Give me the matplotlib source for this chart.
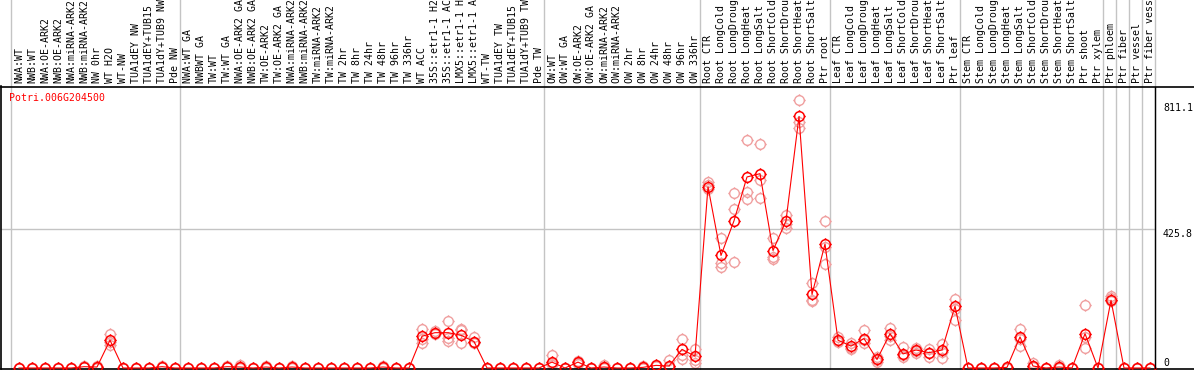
import matplotlib
matplotlib.use("Agg")
import matplotlib.pyplot as plt
from matplotlib.path import Path
import matplotlib.transforms as mtransforms
import numpy as np

gene = "Potri.006G204500"

labels_nw = ["NWA:WT", "NWB:WT", "NWA:OE-ARK2", "NWB:OE-ARK2", "NWA:miRNA-ARK2",
             "NWB:miRNA-ARK2", "NW 0hr", "WT H2O", "WT-NW", "TUA1dEY NW",
             "TUA1dEY+TUB15 NW", "TUA1dY+TUB9 NW", "Pde NW"]
labels_tw = ["NWA:WT GA", "NWBWT GA", "TW:WT", "TW:WT GA", "NWA:OE-ARK2 GA",
             "NWB:OE-ARK2 GA", "TW:OE-ARK2", "TW:OE-ARK2 GA", "NWA:miRNA-ARK2 GA",
             "NWB:miRNA-ARK2 GA", "TW:miRNA-ARK2", "TW:miRNA-ARK2 GA", "TW 2hr", "TW 8hr",
             "TW 24hr", "TW 48hr", "TW 96hr", "TW 336hr", "WT ACC", "35S::etr1-1 H2O",
             "35S::etr1-1 ACC", "LMX5::etr1-1 H2O", "LMX5::etr1-1 ACC", "WT-TW",
             "TUA1dEY TW", "TUA1dEY+TUB15 TW", "TUA1dY+TUB9 TW", "Pde TW"]
labels_ow = ["OW:WT", "OW:WT GA", "OW:OE-ARK2", "OW:OE-ARK2 GA", "OW:miRNA-ARK2",
             "OW:miRNA-ARK2 GA", "OW 2hr", "OW 8hr", "OW 24hr", "OW 48hr", "OW 96hr", "OW 336hr"]
labels_root = ["Root CTR", "Root LongCold", "Root LongDrought", "Root LongHeat", "Root LongSalt",
               "Root ShortCold", "Root ShortDrought", "Root ShortHeat", "Root ShortSalt", "Ptr root"]
labels_leaf = ["Leaf CTR", "Leaf LongCold", "Leaf LongDrought", "Leaf LongHeat", "Leaf LongSalt",
               "Leaf ShortCold", "Leaf ShortDrought", "Leaf ShortHeat", "Leaf ShortSalt", "Ptr leaf"]
labels_stem = ["Stem CTR", "Stem LongCold", "Stem LongDrought", "Stem LongHeat", "Stem LongSalt",
               "Stem ShortCold", "Stem ShortDrought", "Stem ShortHeat", "Stem ShortSalt",
               "Ptr shoot", "Ptr xylem"]
labels_tail = [["Ptr phloem"], ["Ptr fiber"], ["Ptr vessel"], ["Ptr fiber vessel"]]

groups = [labels_nw, labels_tw, labels_ow, labels_root, labels_leaf, labels_stem] + labels_tail
labels = [l for g in groups for l in g]

# mean expression
mean_vals = ([0, 0, 0, 0, 0, 4, 3, 85, 0, 0, 0, 4, 0]
             + [0, 0, 0, 4, 3, 0, 3, 0, 3, 0, 0, 0, 0, 0, 0, 3, 0, 0, 97, 108, 108, 100, 81, 0, 0, 0, 0, 0]
             + [18, 0, 18, 0, 3, 0, 0, 2, 8, 6, 57, 36]
             + [554, 344, 450, 584, 594, 359, 450, 769, 225, 379]
             + [85, 67, 90, 26, 105, 43, 55, 47, 55, 189]
             + [0, 0, 0, 2, 95, 6, 0, 3, 0, 105, 0]
             + [207, 0, 0, 0])

# replicates
rep_a = ([0, 0, 0, 0, 0, 6, 5, 103, 0, 0, 0, 6, 0]
         + [0, 0, 0, 6, 10, 0, 5, 0, 5, 0, 0, 0, 0, 0, 0, 5, 0, 0, 118, 112, 144, 120, 95, 0, 0, 0, 0, 0]
         + [40, 0, 22, 0, 10, 0, 0, 6, 10, 24, 90, 57]
         + [570, 397, 534, 696, 686, 397, 468, 820, 261, 450]
         + [95, 77, 116, 34, 123, 63, 62, 57, 73, 212]
         + [0, 0, 0, 4, 118, 14, 0, 8, 0, 192, 0]
         + [219, 0, 0, 0])
rep_b = ([0, 0, 0, 0, 0, 3, 2, 80, 0, 0, 0, 3, 0]
         + [0, 0, 0, 3, 3, 0, 2, 0, 2, 0, 0, 0, 0, 0, 0, 2, 0, 0, 90, 106, 92, 116, 79, 0, 0, 0, 0, 0]
         + [15, 0, 16, 0, 2, 0, 0, 1, 6, 5, 40, 25]
         + [560, 320, 486, 538, 574, 339, 440, 752, 209, 370]
         + [82, 62, 85, 24, 98, 40, 52, 45, 50, 180]
         + [0, 0, 0, 1, 90, 5, 0, 2, 0, 95, 0]
         + [215, 0, 0, 0])
rep_c = ([0, 0, 0, 0, 0, 2, 1, 70, 0, 0, 0, 2, 0]
         + [0, 0, 0, 2, 1, 0, 1, 0, 1, 0, 0, 0, 0, 0, 0, 1, 0, 0, 76, 104, 82, 76, 75, 0, 0, 0, 0, 0]
         + [8, 0, 12, 0, 0, 0, 0, 0, 5, 2, 26, 15]
         + [547, 308, 323, 516, 519, 333, 427, 734, 205, 318]
         + [78, 57, 75, 19, 85, 34, 45, 34, 31, 146]
         + [0, 0, 0, 0, 67, 3, 0, 0, 0, 60, 0]
         + [205, 0, 0, 0])

y_ticks = [0, 425.8, 811.1]

MONO = "DejaVu Sans Mono"
RED = "#ff0000"
PINK = "#f0a0a0"
GREY = "#c4c4c4"

# circle marker with four little ticks
circ = Path.unit_circle()
ticks = Path([(0, 1), (0, 1.3), (0, -1), (0, -1.3), (1, 0), (1.3, 0), (-1, 0), (-1.3, 0)],
             [Path.MOVETO, Path.LINETO] * 4)
mark = Path.make_compound_path(circ, ticks)

W, H = 1194, 370
fig = plt.figure(figsize=(W / 100, H / 100), dpi=100)
top_px, bot_px = 86.5, 368.5
ax = fig.add_axes([1 / W, (H - bot_px) / H, 1 - 1 / W, (bot_px - top_px) / H])

x0_px, dx_px = 19, 13
zero_px, scale = 368, (368 - 228.7) / 425.8
ax.set_xlim((1 - x0_px) / dx_px, (W - x0_px) / dx_px)
ax.set_ylim((zero_px - bot_px) / scale, (zero_px - top_px) / scale)

x = np.arange(len(labels))
for r in (rep_a, rep_b, rep_c):
    ax.plot(x, r, linestyle="none", marker=mark, markersize=9, mfc="none",
            mec=PINK, mew=1.0, zorder=2)
ax.plot(x, mean_vals, color=RED, lw=0.8, marker=mark, markersize=9, mfc="none",
        mec=RED, mew=1.1, zorder=3)

# group separators
bounds = np.cumsum([0] + [len(g) for g in groups])
label_frac = top_px / (bot_px - top_px)
for b in bounds:
    ax.axvline(b - 0.62, ymin=0, ymax=1 + label_frac + 0.05, color=GREY, lw=1,
               clip_on=False, zorder=1)
ax.axvline(bounds[-1] - 0.62, color="black", lw=1, zorder=4)

ax.hlines(y_ticks[1], ax.get_xlim()[0], bounds[-1] - 0.62, color=GREY, lw=1, zorder=1)

# condition labels above the plot (long ones run off the top edge, as in the source)
lab_trans = mtransforms.blended_transform_factory(ax.transData, ax.transAxes)
for xi, lab in zip(x, labels):
    ax.text(xi, 1 + 3.5 / (bot_px - top_px), lab, rotation=90, ha="center", va="bottom",
            family=MONO, fontsize=7.1, transform=lab_trans, clip_on=False)

# value labels on the right
tx = (1163 - x0_px) / dx_px
ax.text(tx, y_ticks[2], "811.1", family=MONO, fontsize=7.1, ha="left", va="top")
ax.text(tx, y_ticks[1], "425.8", family=MONO, fontsize=7.1, ha="left", va="top")
ax.text(tx, y_ticks[0], "0", family=MONO, fontsize=7.1, ha="left", va="bottom")

fig.text(9 / W, 1 - 97.7 / H, gene, color=RED, family=MONO, fontsize=7.1, va="center")

ax.set_xticks([])
ax.set_yticks([])
ax.spines["right"].set_visible(False)
for s in ("top", "bottom", "left"):
    ax.spines[s].set_linewidth(1.2)

fig.savefig("out.png", dpi=100)
